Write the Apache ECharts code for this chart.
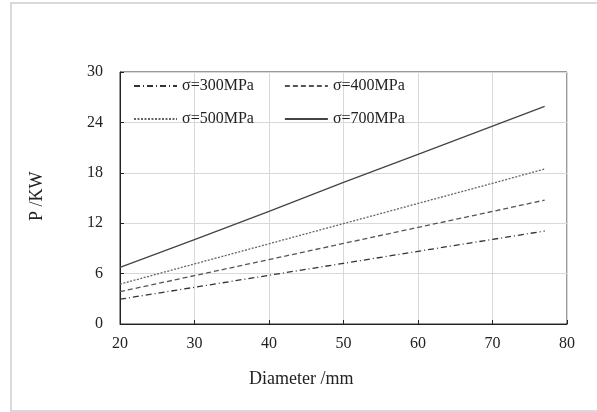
<!DOCTYPE html>
<html>
<head>
<meta charset="utf-8">
<script src="https://cdn.jsdelivr.net/npm/echarts@6/dist/echarts.min.js"></script>
<style>
html,body{margin:0;padding:0;background:#fff;}
#main{width:597px;height:412px;}
</style>
</head>
<body>
<div id="main"></div>
<script>
// diameter (mm)
var diameters = [20, 30, 40, 50, 60, 70, 77];
// power P (KW) for each allowable stress
var p300 = [2.95, 4.37, 5.8, 7.22, 8.65, 10.07, 11.07];
var p400 = [3.85, 5.76, 7.67, 9.59, 11.5, 13.4, 14.75];
var p500 = [4.75, 7.15, 9.55, 11.95, 14.35, 16.75, 18.45];
var p700 = [6.75, 10.05, 13.4, 16.85, 20.2, 23.55, 25.9];
var names = ['σ=300MPa', 'σ=400MPa', 'σ=500MPa', 'σ=700MPa'];

function pairs(ys){
  var out = [];
  for (var i = 0; i < diameters.length; i++) out.push([diameters[i], ys[i]]);
  return out;
}

var font = '"Liberation Serif", "Times New Roman", serif';
var chart = echarts.init(document.getElementById('main'));

function line(name, ys, style, color){
  return {
    name: name,
    type: 'line',
    data: pairs(ys),
    showSymbol: false,
    symbol: 'none',
    lineStyle: {color: color, width: 1.3, type: style},
    itemStyle: {color: color}
  };
}

function legendAt(top, data){
  return {
    left: 133, top: top, padding: 0,
    itemWidth: 43, itemHeight: 14, itemGap: 30,
    itemStyle: {opacity: 0},
    data: data,
    textStyle: {fontFamily: font, fontSize: 16, color: '#222'}
  };
}

var option = {
  animation: false,
  backgroundColor: '#fff',
  graphic: [
    {type: 'rect', shape: {x: 11, y: 3, width: 600, height: 408},
     style: {fill: 'none', stroke: '#d9d9d9', lineWidth: 2}, silent: true},
    {type: 'text', left: 249, top: 370,
     style: {text: 'Diameter /mm', font: '18px ' + font, fill: '#222'}},
    {type: 'text', x: 28, y: 221, rotation: Math.PI / 2,
     style: {text: 'P /KW', font: '18px ' + font, fill: '#222'}}
  ],
  legend: [
    legendAt(78, [names[0], names[1]]),
    legendAt(111, [names[2], names[3]])
  ],
  grid: {
    left: 120, right: 30, top: 72, bottom: 88,
    show: true, borderColor: '#333', borderWidth: 1
  },
  xAxis: {
    type: 'value', min: 20, max: 80, interval: 10,
    axisLine: {lineStyle: {color: '#222'}},
    axisTick: {inside: true, length: 4, lineStyle: {color: '#222'}},
    axisLabel: {fontFamily: font, fontSize: 16, color: '#222', margin: 12},
    splitLine: {lineStyle: {color: '#d9d9d9'}}
  },
  yAxis: {
    type: 'value', min: 0, max: 30, interval: 6,
    axisLine: {show: true, lineStyle: {color: '#222'}},
    axisTick: {show: true, inside: true, length: 4, lineStyle: {color: '#222'}},
    axisLabel: {fontFamily: font, fontSize: 16, color: '#222', margin: 17},
    splitLine: {lineStyle: {color: '#d9d9d9'}}
  },
  series: [
    line(names[0], p300, [6, 3, 1, 3], '#333'),
    line(names[1], p400, [5, 3], '#555'),
    line(names[2], p500, [2, 1.5], '#666'),
    line(names[3], p700, 'solid', '#444')
  ]
};
chart.setOption(option);
</script>
</body>
</html>
